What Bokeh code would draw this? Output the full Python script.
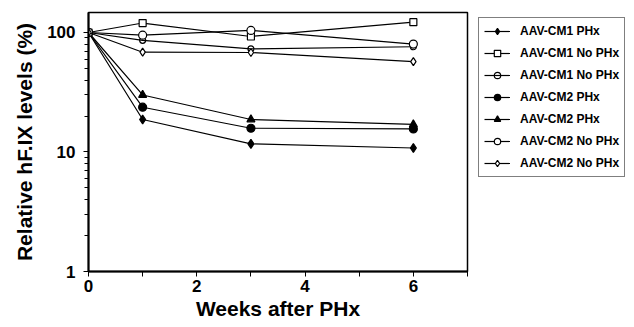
from bokeh.plotting import figure
from bokeh.layouts import row
from bokeh.models import (Legend, LegendItem, FixedTicker, PrintfTickFormatter, Range1d)
from bokeh.embed import file_html
from bokeh.resources import INLINE

weeks = [0, 1, 3, 6]
series_names = ["AAV-CM1 PHx", "AAV-CM1 No PHx", "AAV-CM1 No PHx", "AAV-CM2 PHx",
                "AAV-CM2 PHx", "AAV-CM2 No PHx", "AAV-CM2 No PHx"]
cm1_phx = [100, 18.7, 11.7, 10.8]
cm1_nophx_a = [100, 120, 92.6, 122]
cm1_nophx_b = [100, 86, 73, 76]
cm2_phx_a = [100, 23.7, 15.8, 15.6]
cm2_phx_b = [100, 30, 18.7, 17]
cm2_nophx_a = [100, 95, 104, 80]
cm2_nophx_b = [100, 68.4, 68, 57]

x_major = [0, 2, 4, 6]
x_minor = [1, 3, 5, 7]
y_major = [1, 10, 100]
y_minor = [2, 3, 4, 5, 6, 7, 8, 9, 20, 30, 40, 50, 60, 70, 80, 90]

FONT = "Liberation Sans"

p = figure(width=475, height=327, y_axis_type="log", output_backend="svg",
           toolbar_location=None, x_range=Range1d(0, 7), y_range=Range1d(1, 147),
           min_border_left=88, min_border_right=8, min_border_top=12, min_border_bottom=56)
p.xgrid.visible = False
p.ygrid.visible = False
p.outline_line_color = "black"
p.outline_line_width = 1.5
p.background_fill_color = "white"

# legend-only figure to the right (its ranges keep the series out of view)
pl = figure(width=159, height=327, output_backend="svg", toolbar_location=None,
            x_range=Range1d(-20, -19), y_range=Range1d(-20, -19),
            x_axis_location=None, y_axis_location=None,
            min_border_left=0, min_border_right=0, min_border_top=0, min_border_bottom=0)
pl.xgrid.visible = False
pl.ygrid.visible = False
pl.outline_line_color = None

styles = [
    dict(marker="diamond", size=9, fill="black"),
    dict(marker="square", size=7, fill="white"),
    dict(marker="circle", size=6, fill=None),
    dict(marker="circle", size=8, fill="black"),
    dict(marker="triangle", size=8, fill="black"),
    dict(marker="circle", size=8, fill="white"),
    dict(marker="diamond", size=8, fill="white"),
]
data = [cm1_phx, cm1_nophx_a, cm1_nophx_b, cm2_phx_a, cm2_phx_b, cm2_nophx_a, cm2_nophx_b]


def add_series(fig, xs, ys, st):
    lr = fig.line(xs, ys, line_color="black", line_width=1.2)
    if st["fill"] is None:
        sr = fig.scatter(xs, ys, marker=st["marker"], size=st["size"],
                         line_color="black", line_width=1.2, fill_alpha=0)
    else:
        sr = fig.scatter(xs, ys, marker=st["marker"], size=st["size"],
                         line_color="black", line_width=1.2, fill_color=st["fill"])
    return lr, sr


items = []
for name, vals, st in zip(series_names, data, styles):
    add_series(p, weeks, vals, st)
    lr, sr = add_series(pl, weeks, vals, st)
    items.append(LegendItem(label=name, renderers=[lr, sr]))

legend = Legend(items=items, location=(3, 94), border_line_color="black",
                border_line_width=1.2, background_fill_color="white", background_fill_alpha=1,
                label_text_font=FONT, label_text_font_style="bold", label_text_font_size="12px",
                label_text_color="black",
                glyph_width=26, glyph_height=16, label_height=16, spacing=6, padding=5,
                margin=0, label_standoff=10)
pl.add_layout(legend, "center")

for ax in (p.xaxis[0], p.yaxis[0]):
    ax.axis_line_width = 2
    ax.axis_line_color = "black"
    ax.major_tick_in = 0
    ax.minor_tick_in = 0
    ax.major_tick_line_color = "black"
    ax.minor_tick_line_color = "black"
    ax.major_label_text_font = FONT
    ax.major_label_text_font_style = "bold"
    ax.major_label_text_font_size = "17px"
    ax.major_label_text_color = "black"
    ax.axis_label_text_font = FONT
    ax.axis_label_text_font_style = "bold"
    ax.axis_label_text_font_size = "21px"
    ax.axis_label_text_color = "black"

p.xaxis.ticker = FixedTicker(ticks=x_major, minor_ticks=x_minor)
p.xaxis.major_tick_out = 5
p.xaxis.minor_tick_out = 5
p.xaxis.major_label_standoff = 3
p.xaxis.axis_label = "Weeks after PHx"
p.xaxis.axis_label_standoff = 2

p.yaxis.ticker = FixedTicker(ticks=y_major, minor_ticks=y_minor)
p.yaxis.formatter = PrintfTickFormatter(format="%d")
p.yaxis.major_tick_out = 5
p.yaxis.minor_tick_out = 4
p.yaxis.major_label_standoff = 8
p.yaxis.axis_label = "Relative hF.IX levels (%)"
p.yaxis.axis_label_standoff = 8

layout = row(p, pl, spacing=0)
open("out.html", "w").write(file_html(layout, INLINE))
